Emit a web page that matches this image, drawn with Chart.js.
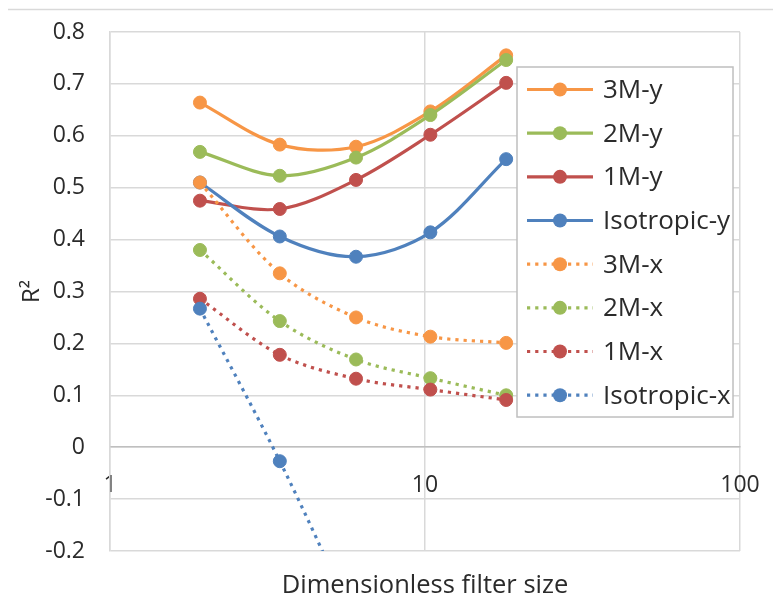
<!DOCTYPE html>
<html>
<head>
<meta charset="utf-8">
<title>R² vs filter size</title>
<style>
  html, body { margin: 0; padding: 0; background: #ffffff; }
  #wrap { width: 773px; height: 598px; position: relative; }
</style>
<script src="https://cdn.jsdelivr.net/npm/chart.js@4.4.1/dist/chart.umd.min.js"></script>
</head>
<body>
<div id="wrap"><canvas id="chart" width="773" height="598"></canvas></div>
<script>
// Dimensionless filter sizes (x, log scale)
const filterSizes = [1.93, 3.46, 6.04, 10.4, 18.1];

// Axis tick values
const xTickValues = [1, 10, 100];
const yTickValues = [-0.2, -0.1, 0, 0.1, 0.2, 0.3, 0.4, 0.5, 0.6, 0.7, 0.8];

// Series names in legend order
const seriesNames = ['3M-y', '2M-y', '1M-y', 'Isotropic-y', '3M-x', '2M-x', '1M-x', 'Isotropic-x'];

// R² values per series
const r2_3My  = [0.664, 0.583, 0.579, 0.647, 0.755];
const r2_2My  = [0.569, 0.523, 0.558, 0.640, 0.746];
const r2_1My  = [0.475, 0.459, 0.515, 0.602, 0.702];
const r2_isoY = [0.510, 0.406, 0.367, 0.414, 0.555];
const r2_3Mx  = [0.510, 0.335, 0.250, 0.213, 0.201];
const r2_2Mx  = [0.380, 0.243, 0.169, 0.133, 0.100];
const r2_1Mx  = [0.286, 0.178, 0.132, 0.111, 0.091];
const r2_isoX = [0.267, -0.027, -0.34, null, null];

const seriesValues = [r2_3My, r2_2My, r2_1My, r2_isoY, r2_3Mx, r2_2Mx, r2_1Mx, r2_isoX];

const ORANGE = '#F79646', GREEN = '#9BBB59', RED = '#C0504D', BLUE = '#4F81BD';
const seriesColors = [ORANGE, GREEN, RED, BLUE, ORANGE, GREEN, RED, BLUE];

const FONT = '"Open Sans", "Noto Sans", sans-serif';
const TEXT = '#2b2b2b';
const GRID = '#D9D9D9';
const DOTS = [3.2, 5];

const datasets = seriesNames.map((name, i) => {
  const dotted = i >= 4;
  return {
    label: name,
    data: filterSizes.map((x, k) => ({ x: x, y: seriesValues[i][k] })),
    borderColor: seriesColors[i],
    backgroundColor: seriesColors[i],
    pointBackgroundColor: seriesColors[i],
    pointBorderColor: seriesColors[i],
    pointRadius: 6.5,
    pointBorderWidth: 1,
    pointHoverRadius: 6.5,
    borderWidth: 3.2,
    borderDash: dotted ? DOTS : [],
    tension: 0.33,
    spanGaps: false,
    order: 8 - i
  };
});

// Legend box drawn inside the plot, with samples taken from each dataset's style
const insideLegend = {
  id: 'insideLegend',
  afterDraw(chart, args, opts) {
    const ctx = chart.ctx;
    const b = opts.box;
    ctx.save();
    ctx.fillStyle = '#ffffff';
    ctx.fillRect(b.left, b.top, b.width, b.height);
    ctx.strokeStyle = '#BFBFBF';
    ctx.lineWidth = 1.5;
    ctx.strokeRect(b.left, b.top, b.width, b.height);
    chart.data.datasets.forEach((ds, i) => {
      const y = b.top + opts.firstRow + i * opts.rowGap;
      ctx.strokeStyle = ds.borderColor;
      ctx.lineWidth = ds.borderWidth;
      ctx.setLineDash(ds.borderDash || []);
      ctx.beginPath();
      ctx.moveTo(b.left + opts.lineStart, y);
      ctx.lineTo(b.left + opts.lineEnd, y);
      ctx.stroke();
      ctx.setLineDash([]);
      ctx.fillStyle = ds.pointBackgroundColor;
      ctx.beginPath();
      ctx.arc(b.left + (opts.lineStart + opts.lineEnd) / 2, y, ds.pointRadius + 0.5, 0, Math.PI * 2);
      ctx.fill();
      ctx.fillStyle = TEXT;
      ctx.font = opts.font;
      ctx.textAlign = 'left';
      ctx.textBaseline = 'middle';
      ctx.fillText(ds.label, b.left + opts.textStart, y + 1);
    });
    ctx.restore();
  }
};

// Thin frame line across the top of the figure
const topRule = {
  id: 'topRule',
  beforeDraw(chart) {
    const ctx = chart.ctx;
    ctx.save();
    ctx.strokeStyle = GRID;
    ctx.lineWidth = 1.5;
    ctx.beginPath();
    ctx.moveTo(8, 9.5);
    ctx.lineTo(chart.width, 9.5);
    ctx.stroke();
    ctx.restore();
  }
};

// Tick labels sit inside the layout padding, so they should not push the plot inward
const noEdgePadding = s => {
  s.paddingTop = 0;
  s.paddingBottom = 0;
  s.paddingLeft = 0;
  s.paddingRight = 0;
};

new Chart(document.getElementById('chart'), {
  type: 'line',
  data: { datasets: datasets },
  plugins: [topRule, insideLegend],
  options: {
    responsive: false,
    devicePixelRatio: 1,
    animation: false,
    layout: { padding: { top: 32, right: 33, left: 0, bottom: 0 } },
    elements: { line: { capBezierPoints: false } },
    plugins: {
      legend: { display: false },
      tooltip: { enabled: false },
      insideLegend: {
        box: { left: 517, top: 67, width: 216, height: 350 },
        firstRow: 22.5,
        rowGap: 43.67,
        lineStart: 10,
        lineEnd: 76,
        textStart: 86,
        font: '26px ' + FONT
      }
    },
    scales: {
      x: {
        type: 'logarithmic',
        min: 1,
        max: 100,
        position: { y: 0 },
        afterBuildTicks: s => { s.ticks = xTickValues.map(v => ({ value: v })); },
        afterFit: noEdgePadding,
        ticks: {
          autoSkip: false,
          maxRotation: 0,
          padding: 24,
          color: TEXT,
          font: { family: FONT, size: 23 },
          callback: v => String(v)
        },
        grid: { color: GRID, lineWidth: 1.5, drawTicks: false },
        border: { color: '#BFBFBF', width: 1.5 }
      },
      xTitle: {
        type: 'linear',
        axis: 'x',
        position: 'bottom',
        ticks: { display: false },
        grid: { display: false, drawTicks: false },
        border: { display: false },
        title: {
          display: true,
          text: 'Dimensionless filter size',
          color: TEXT,
          font: { family: FONT, size: 25.5 },
          padding: { top: 0, bottom: -3 }
        },
        afterFit: s => { noEdgePadding(s); s.height = 47; }
      },
      y: {
        type: 'linear',
        min: -0.2,
        max: 0.8,
        afterBuildTicks: s => { s.ticks = yTickValues.map(v => ({ value: v })); },
        ticks: {
          padding: 25,
          color: TEXT,
          font: { family: FONT, size: 23 },
          callback: v => (Math.abs(v) < 1e-9 ? '0' : v.toFixed(1))
        },
        grid: { color: GRID, lineWidth: 1.5, drawTicks: false },
        border: { color: GRID, width: 1.5 },
        title: {
          display: true,
          text: 'R²',
          color: TEXT,
          font: { family: FONT, size: 24 },
          padding: { top: 18, bottom: 0 }
        },
        afterFit: s => { noEdgePadding(s); s.width = 110; }
      }
    }
  }
});
</script>
</body>
</html>
